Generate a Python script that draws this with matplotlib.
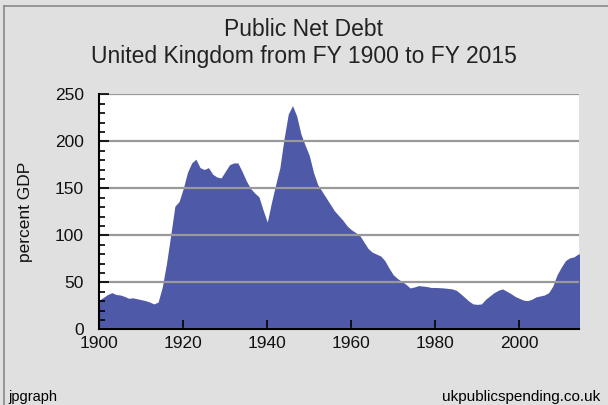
import numpy as np
import matplotlib
matplotlib.use("Agg")
import matplotlib.pyplot as plt
from matplotlib.lines import Line2D

plt.rcParams["font.family"] = ["Liberation Sans", "DejaVu Sans"]

BG = "#e0e0e0"
FILL = "#4e5aa7"
GRID = "#999999"

# ── DATA ──────────────────────────────────────────────────────────────────────
years = list(range(1900, 2016))
debt = [
    31, 34, 37, 39, 37, 36.5, 35, 33, 33.5, 32.5,          # 1900s
    31.5, 30.5, 29, 27, 29, 45, 70, 100, 131, 136,         # 1910s
    150, 167, 177, 181, 172, 170, 172, 165, 162, 161,      # 1920s
    168, 175, 177, 177, 168, 158, 150, 145, 141, 127,      # 1930s
    114, 135, 154, 172, 203, 229, 238, 227, 208, 196,      # 1940s
    185, 167, 154, 147, 140, 133, 126, 121, 116, 110,      # 1950s
    106, 103, 100, 93, 86, 82, 80, 78, 73, 65,             # 1960s
    58, 54, 51, 48, 44, 45, 46.5, 46, 45.5, 44.5,          # 1970s
    44.5, 44.3, 44, 43.5, 43, 41.5, 38, 34, 30, 27,        # 1980s
    26.5, 27, 32, 35.5, 39, 41.5, 43, 40.5, 38, 35,        # 1990s
    33, 31, 30.5, 32, 34.5, 35.5, 36.5, 39, 46, 58,        # 2000s
    66, 73, 76, 77, 80, 80.5,                              # 2010s
]
x_ticks = [1900, 1920, 1940, 1960, 1980, 2000]
y_ticks = [0, 50, 100, 150, 200, 250]

# ── FIGURE ────────────────────────────────────────────────────────────────────
fig = plt.figure(figsize=(6.08, 4.05), dpi=100, facecolor=BG)
ax = fig.add_axes([99.3 / 608, 1 - 329.3 / 405, 480 / 608, 235 / 405])
ax.set_facecolor("white")

ax.fill_between(years, debt, 0, color=FILL, linewidth=0, zorder=1)

ax.set_xlim(1900, 2014.3)
ax.set_ylim(0, 250)
ax.set_xticks(x_ticks)
ax.set_yticks(y_ticks)
ax.set_yticks(range(0, 251, 10), minor=True)

ax.yaxis.grid(True, color=GRID, linewidth=1.6, zorder=2)
ax.set_axisbelow(False)

for s in ["top", "right"]:
    ax.spines[s].set_visible(False)
for s in ["left", "bottom"]:
    ax.spines[s].set_color("black")
    ax.spines[s].set_linewidth(1.5)
    ax.spines[s].set_zorder(3)

ax.tick_params(axis="y", which="major", direction="in", length=7, width=1.2,
               pad=11, labelsize=12.5, colors="black")
ax.tick_params(axis="y", which="minor", direction="in", length=4, width=1.2)
ax.tick_params(axis="x", which="major", direction="in", length=6.5, width=1.2,
               pad=5, labelsize=12.5, colors="black")
for lbl in ax.get_xticklabels() + ax.get_yticklabels():
    lbl.set_color("#111111")

ax.set_ylabel("percent GDP", fontsize=12.5, labelpad=16, color="#111111")

fig.text(0.5, 1 - 30 / 405, "Public Net Debt", ha="center", va="center",
         fontsize=16.5, color="#222222")
fig.text(0.5, 1 - 57 / 405, "United Kingdom from FY 1900 to FY 2015",
         ha="center", va="center", fontsize=16.5, color="#222222")

fig.text(8 / 608, 1 - 397 / 405, "jpgraph", ha="left", va="center",
         fontsize=10.5, color="black")
fig.text(600 / 608, 1 - 397 / 405, "ukpublicspending.co.uk", ha="right",
         va="center", fontsize=11, color="black")

# outer frame (top and left edges visible in the crop)
fig.add_artist(Line2D([4 / 608, 1], [1 - 6 / 405, 1 - 6 / 405],
                      transform=fig.transFigure, color="#8a8a8a", linewidth=1.2))
fig.add_artist(Line2D([4 / 608, 4 / 608], [0, 1 - 6 / 405],
                      transform=fig.transFigure, color="#8a8a8a", linewidth=1.2))

fig.savefig("out.png", dpi=100, facecolor=BG)
